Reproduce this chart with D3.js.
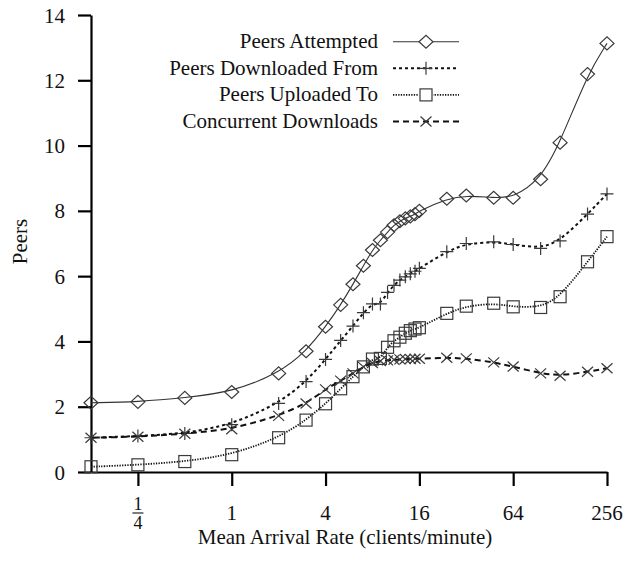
<!DOCTYPE html>
<html>
<head>
<meta charset="utf-8">
<script src="https://cdn.jsdelivr.net/npm/d3@7/dist/d3.min.js"></script>
<style>
  html, body { margin: 0; padding: 0; background: #fff; }
  svg { display: block; }
  svg text { font-family: "Liberation Serif", "Times New Roman", serif; fill: #111; }
</style>
</head>
<body>
<svg id="chart" width="636" height="564"></svg>
<script>
// Mean arrival rate (clients/minute)
const rates = [0.125, 0.25, 0.5, 1, 2, 3, 4, 5, 6, 7, 8, 9, 10, 11, 12, 13, 14, 15, 16,
               24, 32, 48, 64, 96, 128, 192, 256];

const peersAttempted = [2.12, 2.15, 2.27, 2.45, 3.02, 3.70, 4.45, 5.12, 5.75, 6.32, 6.80, 7.10,
                        7.35, 7.56, 7.68, 7.77, 7.83, 7.90, 8.00, 8.37, 8.47, 8.40, 8.40, 8.97,
                        10.09, 12.19, 13.13];
const peersDownloadedFrom = [1.05, 1.10, 1.18, 1.45, 2.10, 2.77, 3.45, 4.03, 4.47, 4.88, 5.15, 5.15,
                             5.50, 5.72, 5.88, 5.98, 6.07, 6.15, 6.24, 6.75, 7.00, 7.05, 6.97, 6.85,
                             7.08, 7.90, 8.52];
const peersUploadedTo = [0.16, 0.22, 0.32, 0.53, 1.05, 1.59, 2.09, 2.55, 2.92, 3.22, 3.46, 3.48,
                         3.82, 4.02, 4.13, 4.25, 4.33, 4.38, 4.42, 4.86, 5.08, 5.17, 5.06, 5.04,
                         5.37, 6.44, 7.21];
const concurrentDownloads = [1.05, 1.08, 1.17, 1.31, 1.72, 2.10, 2.53, 2.80, 3.02, 3.22, 3.34, 3.40,
                             3.42, 3.44, 3.45, 3.46, 3.46, 3.47, 3.47, 3.50, 3.48, 3.36, 3.23, 3.02,
                             2.95, 3.07, 3.18];

const seriesNames = ["Peers Attempted", "Peers Downloaded From", "Peers Uploaded To", "Concurrent Downloads"];
const xTicks = [0.25, 1, 4, 16, 64, 256];
const yTicks = [0, 2, 4, 6, 8, 10, 12, 14];

const xTitle = "Mean Arrival Rate (clients/minute)";
const yTitle = "Peers";

const svg = d3.select("#chart");

const x = d3.scaleLog().base(2).domain([0.125, 256]).range([91, 607]);
const y = d3.scaleLinear().domain([0, 14]).range([472, 15]);

const FONT = 21;

// Axes
const yAxis = d3.axisLeft(y).tickValues(yTicks).tickSize(13).tickSizeOuter(0).tickPadding(13);
const gy = svg.append("g").attr("transform", `translate(${x(0.125)},0)`).call(yAxis)
  .attr("font-family", null).attr("font-size", null);
gy.select(".domain").attr("stroke-width", 2.2);
gy.selectAll(".tick line").attr("stroke-width", 2.2);
gy.selectAll(".tick text").style("font-size", FONT + "px").attr("dy", "0.34em");

const xAxis = d3.axisBottom(x).tickValues(xTicks).tickSize(14).tickSizeOuter(0).tickFormat("");
const gx = svg.append("g").attr("transform", `translate(0,${y(0)})`).call(xAxis)
  .attr("font-family", null).attr("font-size", null);
gx.select(".domain").attr("stroke-width", 2.2);
gx.selectAll(".tick line").attr("stroke-width", 2.2);

// x tick labels (the 1/4 label is set as a stacked fraction)
xTicks.forEach(v => {
  const cx = x(v);
  if (v < 1) {
    const den = Math.round(1 / v);
    svg.append("text").attr("x", cx).attr("y", 509.5).attr("text-anchor", "middle")
      .style("font-size", "18px").text("1");
    svg.append("line").attr("x1", cx - 5.5).attr("x2", cx + 5.5).attr("y1", 513).attr("y2", 513)
      .attr("stroke", "#111").attr("stroke-width", 1.1);
    svg.append("text").attr("x", cx).attr("y", 529).attr("text-anchor", "middle")
      .style("font-size", "18px").text(den);
  } else {
    svg.append("text").attr("x", cx).attr("y", 519.5).attr("text-anchor", "middle")
      .style("font-size", FONT + "px").text(v);
  }
});

// Axis titles
svg.append("text").attr("x", 345).attr("y", 543.5).attr("text-anchor", "middle")
  .style("font-size", FONT + "px").text(xTitle);
svg.append("text").attr("transform", "translate(27,241.5) rotate(-90)").attr("text-anchor", "middle")
  .style("font-size", FONT + "px").text(yTitle);

// Marker shapes
function marker(g, type, cx, cy, color) {
  const sw = 1.2;
  if (type === "diamond") {
    g.append("path").attr("d", `M${cx - 7},${cy}L${cx},${cy - 6.5}L${cx + 7},${cy}L${cx},${cy + 6.5}Z`)
      .attr("fill", "none").attr("stroke", color).attr("stroke-width", sw);
  } else if (type === "plus") {
    g.append("path").attr("d", `M${cx - 6.5},${cy}H${cx + 6.5}M${cx},${cy - 6.5}V${cy + 6.5}`)
      .attr("fill", "none").attr("stroke", color).attr("stroke-width", sw);
  } else if (type === "square") {
    g.append("rect").attr("x", cx - 6).attr("y", cy - 6).attr("width", 12).attr("height", 12)
      .attr("fill", "none").attr("stroke", color).attr("stroke-width", sw);
  } else if (type === "cross") {
    g.append("path").attr("d", `M${cx - 5.5},${cy - 5}L${cx + 5.5},${cy + 5}M${cx - 5.5},${cy + 5}L${cx + 5.5},${cy - 5}`)
      .attr("fill", "none").attr("stroke", color).attr("stroke-width", sw);
  }
}

const series = [
  { name: seriesNames[0], values: peersAttempted, marker: "diamond", dash: null, width: 1.1, color: "#333" },
  { name: seriesNames[1], values: peersDownloadedFrom, marker: "plus", dash: "3,3", width: 2, color: "#111" },
  { name: seriesNames[2], values: peersUploadedTo, marker: "square", dash: "1.3,1.3", width: 1.8, color: "#111" },
  { name: seriesNames[3], values: concurrentDownloads, marker: "cross", dash: "6,4", width: 2, color: "#111" }
];

const lineGen = d3.line().x(d => x(d[0])).y(d => y(d[1])).curve(d3.curveBasis);

const plot = svg.append("g");
series.forEach(s => {
  const pts = rates.map((r, i) => [r, s.values[i]]);
  plot.append("path").attr("d", lineGen(pts)).attr("fill", "none")
    .attr("stroke", s.color).attr("stroke-width", s.width)
    .attr("stroke-dasharray", s.dash);
  const mg = plot.append("g");
  pts.forEach(p => marker(mg, s.marker, x(p[0]), y(p[1]), "#3a3a3a"));
});

// Legend
const legend = svg.append("g");
series.forEach((s, i) => {
  const ry = 41.7 + i * 26.6;
  legend.append("text").attr("x", 378).attr("y", ry + 6.5).attr("text-anchor", "end")
    .style("font-size", FONT + "px").text(s.name);
  legend.append("line").attr("x1", 393).attr("x2", 459).attr("y1", ry).attr("y2", ry)
    .attr("stroke", s.color).attr("stroke-width", s.width).attr("stroke-dasharray", s.dash);
  if (s.marker === "diamond" || s.marker === "square") {
    legend.append("rect").attr("x", 419).attr("y", ry - 6.5).attr("width", 14).attr("height", 13).attr("fill", "#fff");
  }
  marker(legend, s.marker, 426, ry, "#3a3a3a");
});
</script>
</body>
</html>
